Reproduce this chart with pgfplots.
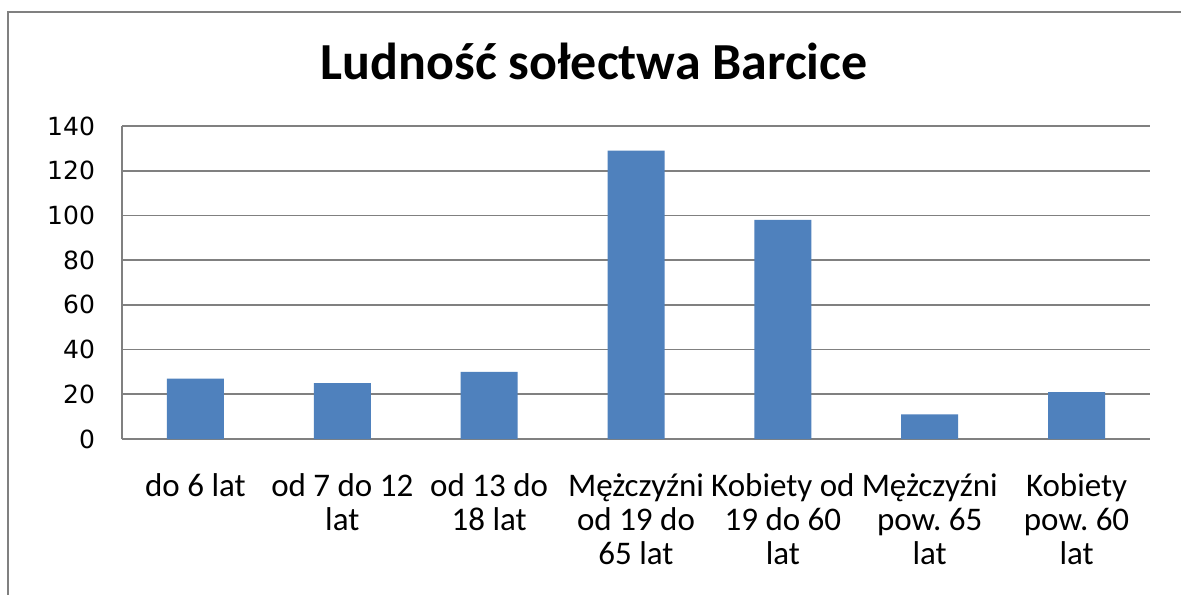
\documentclass[border=0pt]{standalone}
\usepackage{fontspec}
\setmainfont{Carlito}
\newfontfamily\catfont{Carlito}
\newfontfamily\tickfont{DejaVu Sans}
\usepackage{pgfplots}
\pgfplotsset{compat=1.18}
\definecolor{barblue}{RGB}{79,129,189}
\definecolor{gridgray}{RGB}{128,128,128}
\frenchspacing
\begin{document}
\begin{tikzpicture}
\useasboundingbox (0,0) rectangle (590.5pt,297pt);
\fill[white] (0,0) rectangle (590.5pt,297pt);
\draw[gridgray, line width=1pt] (4pt,-2pt) -- (4pt,291pt) -- (590.5pt,291pt);
\node[anchor=base, font=\bfseries\fontsize{26}{30}\selectfont] at (297pt,257pt) {Ludność sołectwa Barcice};
\begin{axis}[
  at={(61pt,77.5pt)}, anchor=south west,
  scale only axis, width=514pt, height=156.5pt,
  xmin=-0.5, xmax=6.5, ymin=0, ymax=140,
  ytick={0,20,...,140},
  xtick={0,1,2,3,4,5,6},
  xticklabels={{do 6 lat},{od 7 do 12\\lat},{od 13 do\\18 lat},{Mężczyźni\\od 19 do\\65 lat},{Kobiety od\\19 do 60\\lat},{Mężczyźni\\pow.\ 65\\lat},{Kobiety\\pow.\ 60\\lat}},
  xticklabel style={align=center, anchor=north, yshift=-14pt, font=\catfont\fontsize{16.5}{17}\selectfont},
  yticklabel style={anchor=east, xshift=-10pt, font=\tickfont\fontsize{12.5}{15}\selectfont},
  /pgf/number format/assume math mode=true,
  major tick length=0pt,
  axis x line=bottom, axis y line=left,
  axis line style={-, gridgray, line width=1pt},
  ymajorgrids, grid style={gridgray, line width=0.85pt},
  ybar, bar width=28.5pt,
]
\addplot[fill=barblue, draw=none] coordinates {(0,27) (1,25) (2,30) (3,129) (4,98) (5,11) (6,21)};
\end{axis}
\end{tikzpicture}
\end{document}
